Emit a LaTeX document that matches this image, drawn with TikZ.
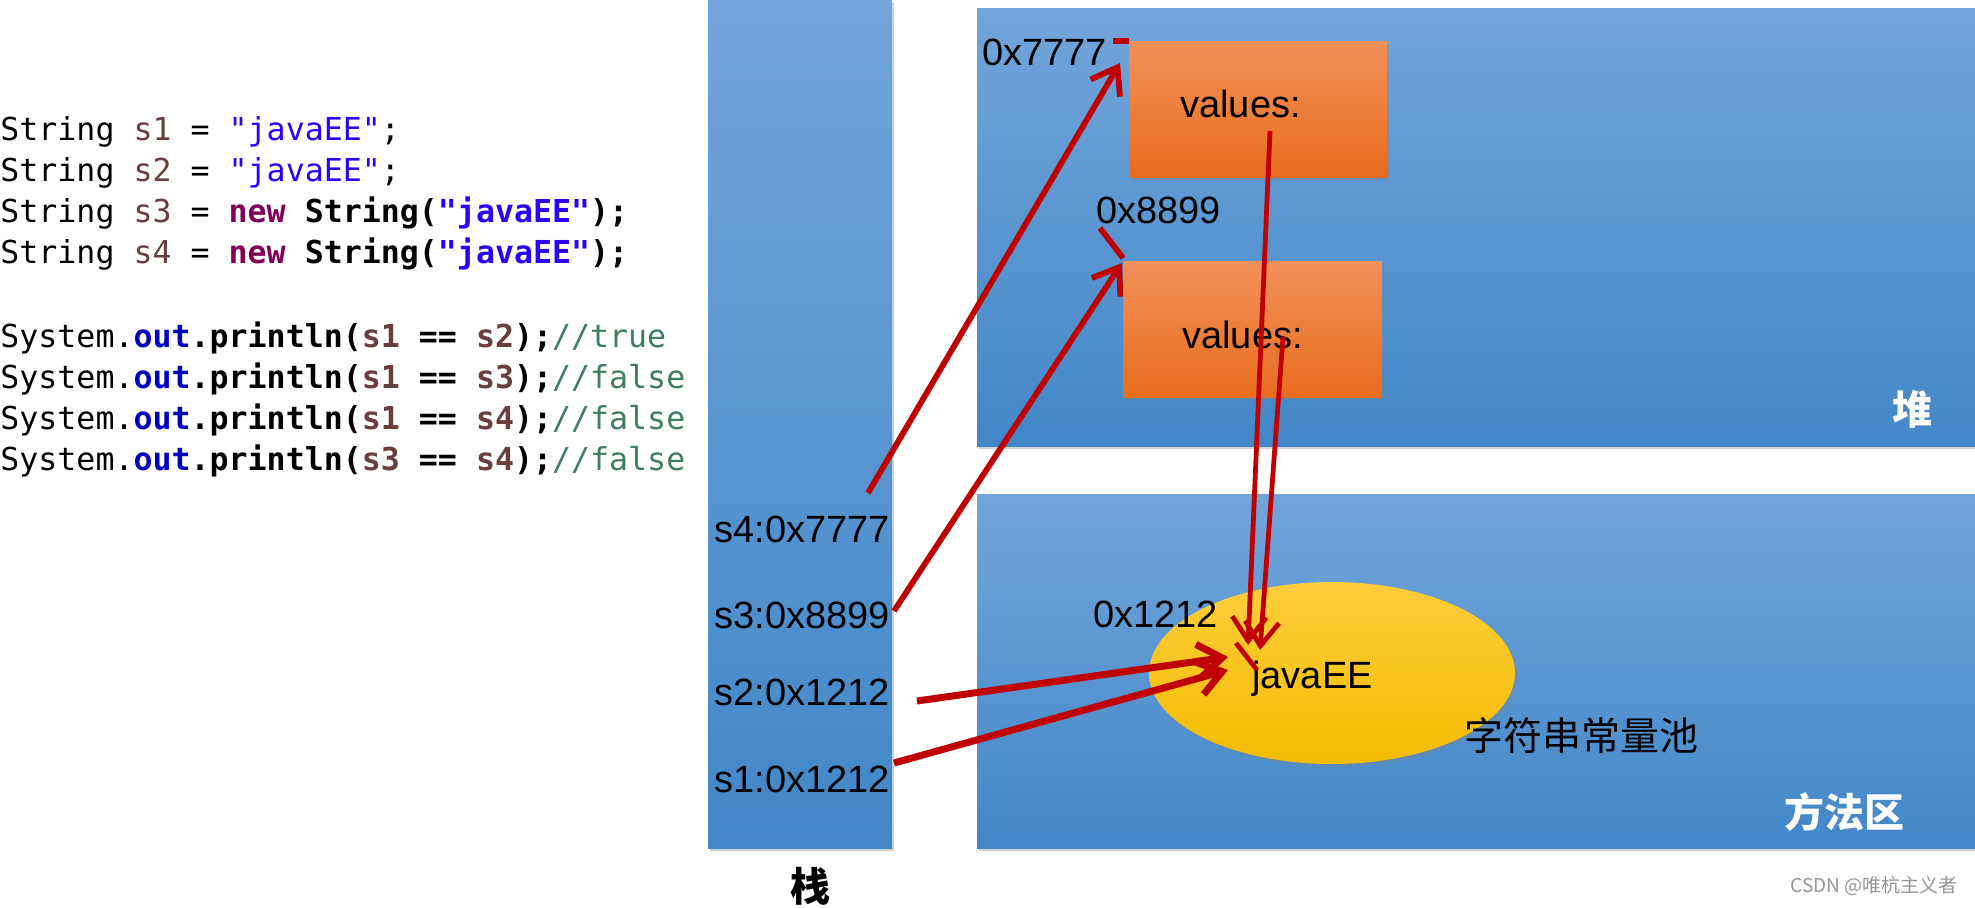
\documentclass[tikz,border=0pt]{standalone}
\usepackage{fontspec}
\setmainfont{Liberation Sans}
\setmonofont{DejaVu Sans Mono}
\newfontfamily\cjk{Noto Sans CJK SC}
\usetikzlibrary{arrows.meta,shadows,shapes.geometric}
\definecolor{redline}{RGB}{192,0,0}
\definecolor{blueT}{RGB}{114,165,218}
\definecolor{blueM}{RGB}{86,154,216}
\definecolor{blueB}{RGB}{66,135,200}
\definecolor{orT}{RGB}{242,145,90}
\definecolor{orB}{RGB}{232,108,30}
\definecolor{yeT}{RGB}{255,205,60}
\definecolor{yeB}{RGB}{242,188,0}
\definecolor{kwc}{RGB}{127,0,85}
\definecolor{strc}{RGB}{42,0,255}
\definecolor{varc}{RGB}{106,62,62}
\definecolor{fldc}{RGB}{0,0,192}
\definecolor{cmtc}{RGB}{63,127,95}
\definecolor{wmc}{RGB}{150,150,150}
\newcommand\kwd[1]{{\bfseries\color{kwc}#1}}
\newcommand\strn[1]{{\color{strc}#1}}
\newcommand\strb[1]{{\bfseries\color{strc}#1}}
\newcommand\vrn[1]{{\color{varc}#1}}
\newcommand\vrb[1]{{\bfseries\color{varc}#1}}
\newcommand\fld[1]{{\bfseries\color{fldc}#1}}
\newcommand\cmt[1]{{\color{cmtc}#1}}
\begin{document}
\begin{tikzpicture}[x=0.5pt,y=-0.5pt,
  region/.style={rectangle, inner sep=0, top color=blueT, middle color=blueM, bottom color=blueB,
     drop shadow={opacity=0.35, shadow xshift=1pt, shadow yshift=-1.5pt}},
  objbox/.style={rectangle, inner sep=0, top color=orT, bottom color=orB,
     minimum width=129pt, minimum height=68pt,
     drop shadow={opacity=0.35, shadow xshift=1pt, shadow yshift=-1.5pt}},
  pool/.style={ellipse, inner sep=0, top color=yeT, bottom color=yeB,
     minimum width=183pt, minimum height=91pt,
     drop shadow={opacity=0.3, shadow xshift=1pt, shadow yshift=-1.5pt}},
  codeline/.style={anchor=base west, inner sep=0, font=\ttfamily\fontsize{15.8}{19}\selectfont},
  lbl/.style={anchor=base west, inner sep=0, font=\fontsize{19}{22}\selectfont},
  cjklbl/.style={inner sep=0, font=\cjk\fontsize{19.5}{22}\selectfont},
  arealbl/.style={inner sep=0, text=white, font=\cjk\bfseries\fontsize{20}{22}\selectfont},
  arr/.style={draw=redline, line width=#1, -{Straight Barb[length=12pt,width=17pt]}},
  arr/.default=2.8pt,
  tick/.style={draw=redline, line width=#1},
  tick/.default=2.8pt]
\useasboundingbox[fill=white] (0,0) rectangle (1975,907);

% regions
\node[region, minimum width=92pt, minimum height=424pt] (stack) at (800,424) {};
\node[region, minimum width=499pt, minimum height=219pt] (heap) at (1476,227) {};
\node[region, minimum width=499pt, minimum height=177pt] (method) at (1476,671) {};

\node[objbox] (obj1) at (1258,109) {};
\node[objbox] (obj2) at (1252.5,329) {};
\node[pool] (pool) at (1332,673) {};

% code
\node[codeline] (c1) at (0,140) {String \vrn{s1} = \strn{"javaEE"};};
\node[codeline] (c2) at (0,181) {String \vrn{s2} = \strn{"javaEE"};};
\node[codeline] (c3) at (0,222) {String \vrn{s3} = \kwd{new} \textbf{String(}\strb{"javaEE"}\textbf{);}};
\node[codeline] (c4) at (0,263) {String \vrn{s4} = \kwd{new} \textbf{String(}\strb{"javaEE"}\textbf{);}};
\node[codeline] (c5) at (0,347) {System.\fld{out}\textbf{.println(}\vrb{s1} \textbf{==} \vrb{s2}\textbf{);}\cmt{//true}};
\node[codeline] (c6) at (0,388) {System.\fld{out}\textbf{.println(}\vrb{s1} \textbf{==} \vrb{s3}\textbf{);}\cmt{//false}};
\node[codeline] (c7) at (0,429) {System.\fld{out}\textbf{.println(}\vrb{s1} \textbf{==} \vrb{s4}\textbf{);}\cmt{//false}};
\node[codeline] (c8) at (0,470) {System.\fld{out}\textbf{.println(}\vrb{s3} \textbf{==} \vrb{s4}\textbf{);}\cmt{//false}};

% labels
\node[lbl] (l4) at (714,542) {s4:0x7777};
\node[lbl] (l3) at (714,628) {s3:0x8899};
\node[lbl] (l2) at (714,705) {s2:0x1212};
\node[lbl] (l1) at (714,792) {s1:0x1212};
\node[lbl] (a7) at (982,65) {0x7777};
\node[lbl] (a8) at (1096,223) {0x8899};
\node[lbl] (a12) at (1093,627) {0x1212};
\node[lbl] (v1) at (1180,117) {values:};
\node[lbl] (v2) at (1182,348) {values:};
\node[lbl] (jee) at (1252,688) {javaEE};
\node[cjklbl] (pooltxt) at (1581,736) {字符串常量池};
\node[inner sep=0, font=\cjk\bfseries\fontsize{20}{22}\selectfont] (stacktxt) at (810,886) {栈};
\node[arealbl] (heaptxt) at (1912,409) {堆};
\node[arealbl] (methodtxt) at (1844,812) {方法区};
\node[inner sep=0, text=wmc, font=\cjk\fontsize{9.5}{11}\selectfont] (wm) at (1874,886) {CSDN @唯杭主义者};

% connector end points
\coordinate (s4a) at (868,493);  \coordinate (s4b) at (1120,63);
\coordinate (s3a) at (894,611);  \coordinate (s3b) at (1122,263);
\coordinate (s2a) at (917,701);  \coordinate (s2b) at (1228,657);
\coordinate (s1a) at (894,763);  \coordinate (s1b) at (1228,670);
\coordinate (v1a) at (1270,131); \coordinate (v1b) at (1248,645);
\coordinate (v2a) at (1283,337); \coordinate (v2b) at (1260,650);
\coordinate (t7a) at (1113,41);  \coordinate (t7b) at (1129,41);
\coordinate (t8a) at (1100,228); \coordinate (t8b) at (1123,258);
\coordinate (t12a) at (1236,643); \coordinate (t12b) at (1257,670);

\draw[arr=2.9pt] (s4a) -- (s4b);
\draw[arr=2.9pt] (s3a) -- (s3b);
\draw[arr=3.5pt] (s2a) -- (s2b);
\draw[arr=3.5pt] (s1a) -- (s1b);
\draw[arr=2.4pt] (v1a) -- (v1b);
\draw[arr=2.4pt] (v2a) -- (v2b);
\draw[tick=2.9pt] (t7a) -- (t7b);
\draw[tick=2.9pt] (t8a) -- (t8b);
\draw[tick=2.4pt] (t12a) -- (t12b);
\end{tikzpicture}
\end{document}
